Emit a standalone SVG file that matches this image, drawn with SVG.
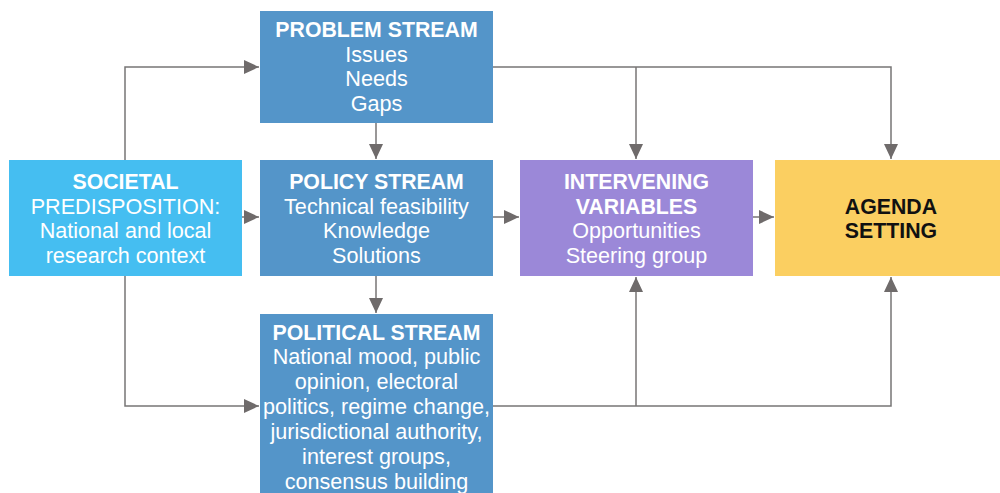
<svg xmlns="http://www.w3.org/2000/svg" width="1000" height="493" viewBox="0 0 1000 493">
  <style>
    .box text { font-family: "Liberation Sans", Arial, sans-serif; font-size: 21.6px; fill: #ffffff; text-anchor: middle; }
    .box .b { font-weight: bold; font-size: 21.3px; }
    .dark text { fill: #111111; }
    .wire { fill: none; stroke: #777575; stroke-width: 1.5; }
  </style>
  <defs>
    <marker id="arrow" viewBox="0 0 15 14" refX="15" refY="7" markerWidth="15" markerHeight="14" markerUnits="userSpaceOnUse" orient="auto">
      <path d="M0,0 L15,7 L0,14 z" fill="#6f6b6b"/>
    </marker>
  </defs>
  <rect width="1000" height="493" fill="#ffffff"/>

  <!-- connectors -->
  <g id="connectors">
    <path class="wire" d="M125,160 V67 H259" marker-end="url(#arrow)"/>
    <path class="wire" d="M125,276 V406 H259" marker-end="url(#arrow)"/>
    <path class="wire" d="M242,217 H259" marker-end="url(#arrow)"/>
    <path class="wire" d="M376,122 V159" marker-end="url(#arrow)"/>
    <path class="wire" d="M376,276 V313" marker-end="url(#arrow)"/>
    <path class="wire" d="M493,67 H891 V159" marker-end="url(#arrow)"/>
    <path class="wire" d="M636,67 V159" marker-end="url(#arrow)"/>
    <path class="wire" d="M493,217 H519" marker-end="url(#arrow)"/>
    <path class="wire" d="M753,217 H774" marker-end="url(#arrow)"/>
    <path class="wire" d="M493,406 H891 V277" marker-end="url(#arrow)"/>
    <path class="wire" d="M636,406 V277" marker-end="url(#arrow)"/>
  </g>

  <g id="societal" class="box">
    <rect x="9" y="160" width="233" height="116" fill="#45bef1"/>
    <text x="125.5" y="189" class="b">SOCIETAL</text>
    <text x="125.5" y="214">PREDISPOSITION:</text>
    <text x="125.5" y="238">National and local</text>
    <text x="125.5" y="263">research context</text>
  </g>

  <g id="problem" class="box">
    <rect x="260" y="11" width="233" height="112" fill="#5495c9"/>
    <text x="376.5" y="37" class="b">PROBLEM STREAM</text>
    <text x="376.5" y="62">Issues</text>
    <text x="376.5" y="86">Needs</text>
    <text x="376.5" y="111">Gaps</text>
  </g>

  <g id="policy" class="box">
    <rect x="260" y="160" width="233" height="116" fill="#5495c9"/>
    <text x="376.5" y="189" class="b">POLICY STREAM</text>
    <text x="376.5" y="214">Technical feasibility</text>
    <text x="376.5" y="238">Knowledge</text>
    <text x="376.5" y="263">Solutions</text>
  </g>

  <g id="political" class="box">
    <rect x="260" y="314" width="233" height="179" fill="#5495c9"/>
    <text x="376.5" y="340" class="b">POLITICAL STREAM</text>
    <text x="376.5" y="364">National mood, public</text>
    <text x="376.5" y="389">opinion, electoral</text>
    <text x="376.5" y="414">politics, regime change,</text>
    <text x="376.5" y="439">jurisdictional authority,</text>
    <text x="376.5" y="464">interest groups,</text>
    <text x="376.5" y="489">consensus building</text>
  </g>

  <g id="intervening" class="box">
    <rect x="520" y="160" width="233" height="116" fill="#9b88d8"/>
    <text x="636.5" y="189" class="b">INTERVENING</text>
    <text x="636.5" y="214" class="b">VARIABLES</text>
    <text x="636.5" y="238">Opportunities</text>
    <text x="636.5" y="263">Steering group</text>
  </g>

  <g id="agenda" class="box dark">
    <rect x="775" y="160" width="225" height="116" fill="#fbcf61"/>
    <text x="891" y="214" class="b">AGENDA</text>
    <text x="891" y="238" class="b">SETTING</text>
  </g>
</svg>
